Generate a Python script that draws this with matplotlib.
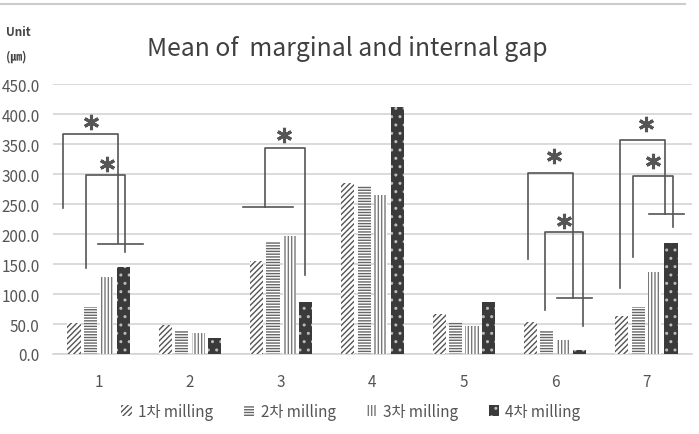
import matplotlib.pyplot as plt
import numpy as np

plt.rcParams['font.family'] = ['Noto Sans CJK KR', 'DejaVu Sans']
plt.rcParams['hatch.linewidth'] = 1.0

# data
categories = ['1', '2', '3', '4', '5', '6', '7']
series = ['1차 milling', '2차 milling', '3차 milling', '4차 milling']
milling_1 = [52, 49, 155, 285, 67, 53, 64]
milling_2 = [79, 38, 189, 280, 53, 38, 79]
milling_3 = [128, 35, 196, 265, 47, 23, 137]
milling_4 = [145, 27, 87, 412, 87, 7, 185]
values = [milling_1, milling_2, milling_3, milling_4]

# significance brackets: (left x, left bottom y, top y, right x, right bottom y), star (x, y)
brackets = [
    (-0.387, 243, 367, 0.214, 185, -0.086, 387),
    (-0.134, 143, 298, 0.284, 170, 0.097, 317),
    (1.826, 245, 343, 2.258, 131, 2.027, 365),
    (4.705, 158, 302, 5.200, 93, 4.992, 330),
    (4.888, 74, 203, 5.305, 47, 5.097, 222),
    (5.709, 110, 357, 6.203, 234, 5.995, 383),
    (5.859, 161, 297, 6.288, 212, 6.068, 322),
]
# horizontal cross lines: (x start, x end, y)
crossbars = [
    (-0.005, 0.481, 184),
    (1.580, 2.130, 245),
    (5.024, 5.409, 93),
    (6.024, 6.415, 234),
]

fig = plt.figure(figsize=(6.99, 4.35), dpi=100)
ax = fig.add_axes([53/699, 1 - 355/435, 639/699, 270/435])

x = np.arange(len(categories))
slot = 0.18
width = 0.145
styles = [
    dict(facecolor='white', edgecolor='#555555', hatch='//////'),
    dict(facecolor='white', edgecolor='#666666', hatch='------'),
    dict(facecolor='white', edgecolor='#777777', hatch='|||||'),
    dict(facecolor='#3a3a3a', edgecolor='#bbbbbb', hatch='..'),
]
handles = []
for i, vals in enumerate(values):
    b = ax.bar(x + (i - 1.5) * slot, vals, width, linewidth=0, label=series[i],
               zorder=3, **styles[i])
    handles.append(b)

for lx, lb, top, rx, rb, sx, sy in brackets:
    ax.plot([lx, lx, rx, rx], [lb, top, top, rb], color='#555555', lw=1.2, zorder=4)
    ax.plot([sx], [sy], marker=(6, 2, 0), markersize=11, mew=2.2, color='#555555', zorder=4)
for x0, x1, yy in crossbars:
    ax.plot([x0, x1], [yy, yy], color='#555555', lw=1.2, zorder=4)

ax.set_xlim(-0.5, 6.5)
ax.set_ylim(0, 450)
ax.set_yticks(np.arange(0, 451, 50))
ax.set_yticklabels([f'{v:.1f}' for v in np.arange(0, 451, 50)], fontsize=11, color='#555555')
ax.set_xticks(x)
ax.set_xticklabels(categories, fontsize=11, color='#555555')
ax.tick_params(length=0)
ax.tick_params(axis='y', pad=9.5)
ax.tick_params(axis='x', pad=14)
ax.grid(axis='y', color='#d4d4d4', lw=1.2, zorder=0)
for s in ['top', 'right', 'left']:
    ax.spines[s].set_visible(False)
ax.spines['bottom'].set_color('#d4d4d4')
ax.spines['bottom'].set_linewidth(1.2)

fig.text(0.497, 0.887, 'Mean of  marginal and internal gap', ha='center', va='center',
         fontsize=17.8, color='#404040')
fig.text(0.008, 0.926, 'Unit', ha='left', va='center', fontsize=8.5,
         fontweight='bold', color='#444444')
fig.text(0.008, 0.869, '(㎛)', ha='left', va='center', fontsize=8.5,
         fontweight='bold', color='#444444')
fig.add_artist(plt.Line2D([0, 0.98], [0.988, 0.988], color='#cccccc', lw=1.5))

leg = fig.legend(handles=handles, loc='center', bbox_to_anchor=(0.502, 0.052), ncol=4,
                 frameon=False, fontsize=11, handlelength=0.7, handleheight=0.7,
                 handletextpad=0.4, columnspacing=2.0)
for t in leg.get_texts():
    t.set_color('#555555')

fig.savefig('out.png', dpi=100)
